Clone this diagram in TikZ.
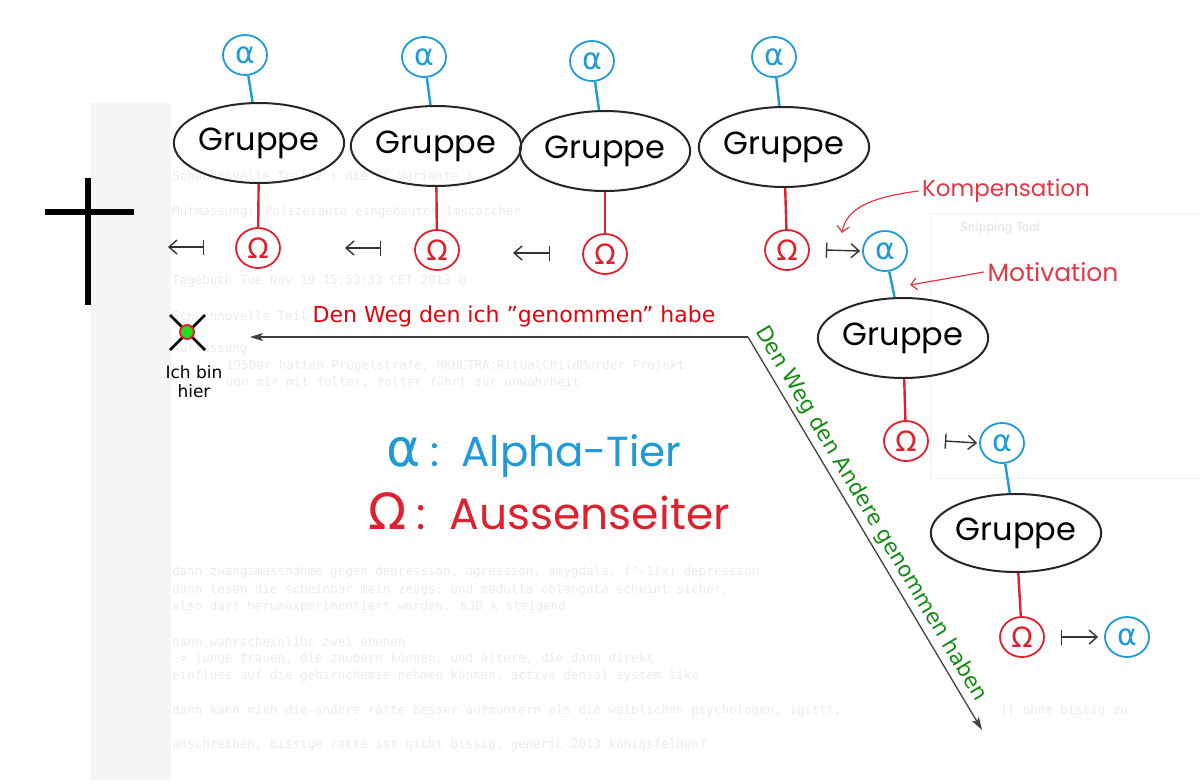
\documentclass[tikz,border=0pt]{standalone}
\usepackage{fontspec}
\setmainfont{DejaVu Sans}
\newfontfamily\hand{Poppins}
\newfontfamily\greek{DejaVu Sans}
\newfontfamily\bgmono{DejaVu Sans Mono}
\usetikzlibrary{arrows.meta,shapes.geometric}
\definecolor{cblue}{HTML}{1E9AD8}
\definecolor{cred}{HTML}{E0202C}
\definecolor{kred}{HTML}{E23845}
\definecolor{wred}{HTML}{E8000B}
\definecolor{cgreen}{HTML}{138A13}
\definecolor{bgtxt}{HTML}{EBEBEB}
\definecolor{bgstrip}{HTML}{F4F5F7}
\definecolor{mgreen}{HTML}{22DD22}
\begin{document}
\begin{tikzpicture}[x=1pt,y=-1pt,
  alph/.style={ellipse, draw=cblue, line width=1.8pt, text=cblue, minimum width=44pt, minimum height=40pt, inner sep=0pt, font=\greek\fontsize{30}{30}\selectfont},
  omg/.style={ellipse, draw=cred, line width=1.8pt, text=cred, minimum width=44pt, minimum height=40pt, inner sep=0pt, font=\greek\fontsize{28}{28}\selectfont},
  grp/.style={ellipse, draw=black!85, line width=2pt, minimum width=148pt, minimum height=80pt, inner sep=0pt, font=\hand\fontsize{32}{32}\selectfont},
  blink/.style={draw=cblue, line width=2.4pt},
  rlink/.style={draw=cred, line width=2.4pt},
  mapsfromarrow/.style={draw=black!80, line width=1.4pt, {Straight Barb[length=8pt,width=14pt]}-{Bar[width=15pt]}},
  mapstoarrow/.style={draw=black!80, line width=1.4pt, {Bar[width=15pt]}-{Straight Barb[length=8pt,width=14pt]}},
  wayarrow/.style={draw=black!75, line width=1.3pt, -{Stealth[length=13pt,width=8pt,inset=3pt]}},
  noteline/.style={draw=kred, line width=1.2pt, -{Straight Barb[length=6pt,width=12pt]}},
  bgline/.style={anchor=west, inner sep=0pt, text=bgtxt, font=\bgmono\fontsize{12.5}{13}\selectfont},
]
\useasboundingbox (0,0) rectangle (1200,780);

% faded screenshot in the background
\begin{scope}
\clip (0,0) rectangle (1200,780);
\fill[bgstrip] (90,103) rectangle (171,780);
\draw[black!5, line width=1pt] (930,213) rectangle (1210,478);
\node[anchor=west, inner sep=0pt, text=black!12, font=\fontsize{12}{12}\selectfont] (snip) at (960,228) {Snipping Tool};
\node[bgline] (bg1) at (172,177) {Schachnovelle Teil 2 ( die CC Variante )};
\node[bgline] (bg2) at (172,212) {Mutmassung: Polizeiauto eingebauter Imscatcher};
\node[bgline] (bg3) at (172,281) {Tagebuch Tue Nov 19 15:53:33 CET 2013 @};
\node[bgline] (bg4) at (172,316) {Schachnovelle Teil};
\node[bgline] (bg5) at (172,349) {Auffassung};
\node[bgline] (bg6) at (226,366) {1950er hatten Prügelstrafe, MKULTRA:RitualChildMurder Projekt};
\node[bgline] (bg7) at (226,383) {von mir mit folter, folter führt zur unwahrheit};
\node[bgline] (bg13) at (172,572) {dann zwangsmassnahme gegen depression, agression, amygdala, f\textasciicircum-1(x) depression};
\node[bgline] (bg14) at (172,590) {dann lesen die scheinbar mein zeugs, und medulla oblangata scheint sicher,};
\node[bgline] (bg15) at (172,607) {also darf herumexperimentiert werden. KJD k steigend};
\node[bgline] (bg16) at (172,642) {dann wahrscheinlihc zwei ebenen};
\node[bgline] (bg17) at (172,659) {-> junge frauen, die zaubern können, und ältere, die dann direkt};
\node[bgline] (bg18) at (172,676) {einfluss auf die gehirnchemie nehmen können, active denial system like};
\node[bgline] (bg19) at (172,711) {dann kann mich die andere ratte besser aufmuntern als die weiblichen psychologen, igittt,};
\node[bgline] (bg19b) at (1000,711) {|| ohne bissig zu};
\node[bgline] (bg20) at (172,745) {anschreiben, bissige ratte ist nicht bissig, generic 2013 königsfelden?};
\end{scope}

% cross
\draw[black, line width=6pt] (88,178) -- (88,305);
\draw[black, line width=6pt] (45,212) -- (134,212);

% top row
\node[alph] (a1) at (245,55) {α};
\node[grp]  (g1) at (259,143) {Gruppe};
\node[omg]  (o1) at (258,248) {Ω};
\node[alph] (a2) at (424,57) {α};
\node[grp]  (g2) at (436,146) {Gruppe};
\node[omg]  (o2) at (437,250) {Ω};
\node[alph] (a3) at (592,61) {α};
\node[grp]  (g3) at (605,151) {Gruppe};
\node[omg]  (o3) at (605,254) {Ω};
\node[alph] (a4) at (774,57) {α};
\node[grp, minimum width=128pt]  (g4) at (784,147) {Gruppe};
\node[omg]  (o4) at (787,250) {Ω};
% right descent
\node[alph] (a5) at (885,251) {α};
\node[grp]  (g5) at (903,338) {Gruppe};
\node[omg]  (o5) at (906,441) {Ω};
\node[alph] (a6) at (1002,443) {α};
\node[grp, minimum width=132pt, minimum height=78pt]  (g6) at (1016,533) {Gruppe};
\node[omg]  (o6) at (1022,637) {Ω};
\node[alph] (a7) at (1127,637) {α};

\foreach \i in {1,...,6} {
  \draw[blink] (a\i) -- (g\i);
  \draw[rlink] (g\i) -- (o\i);
}

% maps arrows
\coordinate (m1a) at (168,247); \coordinate (m1b) at (204,247);
\coordinate (m2a) at (345,248); \coordinate (m2b) at (381,248);
\coordinate (m3a) at (513,253); \coordinate (m3b) at (550,253);
\draw[mapsfromarrow] (m1a) -- (m1b);
\draw[mapsfromarrow] (m2a) -- (m2b);
\draw[mapsfromarrow] (m3a) -- (m3b);
\draw[mapstoarrow] ([xshift=16pt]o4.east) -- ([xshift=-2pt]a5.west);
\draw[mapstoarrow] ([xshift=16pt]o5.east) -- ([xshift=-2pt]a6.west);
\draw[mapstoarrow] ([xshift=16pt]o6.east) -- ([xshift=-6pt]a7.west);

% notes
\node[text=kred, font=\hand\fontsize{23}{23}\selectfont] (komp) at (1006,191) {Kompensation};
\coordinate (kompTip) at (842,233);
\draw[noteline] (komp.west) .. controls (872,197) and (846,208) .. (kompTip);
\node[text=kred, font=\hand\fontsize{25}{25}\selectfont] (motiv) at (1053,272) {Motivation};
\coordinate (motTip) at (910,285);
\draw[noteline] (motiv.west) -- (motTip);

% legend
\node[anchor=west, inner sep=0pt, text=cblue, font=\hand\fontsize{42}{42}\selectfont] (legA) at (386,456) {{\greek\fontsize{52}{52}\selectfont α}\hspace{10pt}:\hspace{22pt}Alpha-Tier};
\node[anchor=west, inner sep=0pt, text=cred, font=\hand\fontsize{44}{44}\selectfont] (legO) at (368,511) {{\greek\fontsize{50}{50}\selectfont Ω}\hspace{10pt}:\hspace{24pt}Aussenseiter};

% me marker
\draw[black, line width=2.6pt] (170,315) -- (205,350);
\draw[black, line width=2.6pt] (205,315) -- (170,350);
\node[circle, fill=mgreen, draw=cred, line width=2pt, minimum size=14pt, inner sep=0pt] (me) at (187,332) {};
\node[align=center, inner sep=0pt, font=\fontsize{17}{19}\selectfont] (melabel) at (194,382) {Ich bin\\hier};

% the ways
\coordinate (fork) at (748,337);
\coordinate (mine) at (250,337);
\coordinate (others) at (982,730);
\draw[wayarrow] (fork) -- (mine);
\draw[wayarrow] (fork) -- node[sloped, above, pos=0.47, text=cgreen, font=\fontsize{21.5}{22}\selectfont, inner sep=4pt] (othersLabel) {Den Weg den Andere genommen haben} (others);
\node[text=wred, inner sep=0pt, font=\fontsize{22}{24}\selectfont] (mineLabel) at (514,316) {Den Weg den ich \symbol{34}genommen\symbol{34} habe};
\end{tikzpicture}
\end{document}
